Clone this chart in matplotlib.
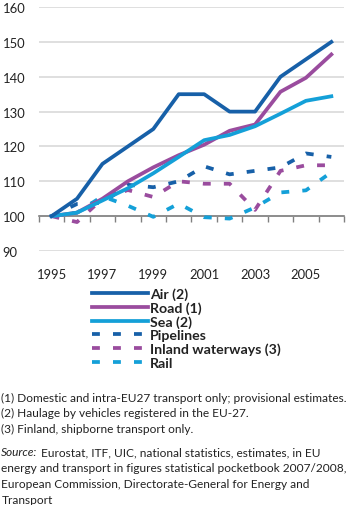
import numpy as np
import matplotlib
matplotlib.use('Agg')
import matplotlib.pyplot as plt
from matplotlib.ticker import FixedLocator

plt.rcParams['font.family'] = ['Lato', 'DejaVu Sans']

years = np.arange(1995, 2007)
air = [100, 105, 115, 120, 125, 135, 135, 130, 130, 140, 145, 150]
road = [100, 101, 105, 110, 114, 117.5, 120.5, 124.5, 126.3, 135.7, 139.7, 146.4]
sea = [100, 101, 104.5, 108, 112.3, 117, 121.8, 123.3, 125.8, 129.4, 133.1, 134.4]
pipelines = [100, 103.5, 103.8, 109, 108.3, 110, 114.3, 112, 113, 114, 118, 117]
inland = [100, 98.3, 105, 107.5, 105.5, 110, 109.3, 109.3, 101.8, 113, 114.6, 114.6]
rail = [100, 101, 105.7, 103, 99.8, 103.6, 99.7, 99.3, 102.5, 106.8, 107.4, 112.6]

year_labels = ['1995', '1997', '1999', '2001', '2003', '2005']
yticks = [90, 100, 110, 120, 130, 140, 150, 160]

c_dark = '#1760a8'
c_purple = '#9a4c9e'
c_light = '#14a0d8'
txt = '#222222'

fig = plt.figure(figsize=(3.5, 5.06), dpi=100)
ax = fig.add_axes([0.111, 0.502, 0.872, 0.482])

lw = 2.7
ax.plot(years, air, color=c_dark, lw=lw, label='Air (2)', zorder=5)
ax.plot(years, road, color=c_purple, lw=lw, label='Road (1)', zorder=4)
ax.plot(years, sea, color=c_light, lw=lw, label='Sea (2)', zorder=4)
ds = (2.1, 3.5)
ax.plot(years, pipelines, color=c_dark, lw=lw, dashes=ds, dash_capstyle='butt', label='Pipelines', zorder=3)
ax.plot(years, inland, color=c_purple, lw=lw, dashes=ds, dash_capstyle='butt', label='Inland waterways (3)', zorder=3)
ax.plot(years, rail, color=c_light, lw=lw, dashes=ds, dash_capstyle='butt', label='Rail', zorder=3)

ax.set_xlim(1994.5, 2006.5)
ax.set_ylim(90, 160)
ax.set_yticks(yticks)
ax.yaxis.grid(True, color='#d9d9d9', lw=1.2)
ax.set_axisbelow(True)
ax.tick_params(axis='y', length=0, pad=26, labelsize=9.4, labelcolor=txt)
for lab in ax.get_yticklabels():
    lab.set_horizontalalignment('left')

for s in ['top', 'right', 'left']:
    ax.spines[s].set_visible(False)
ax.spines['bottom'].set_position(('data', 100))
ax.spines['bottom'].set_color('#808080')
ax.spines['bottom'].set_linewidth(1.2)
ax.spines['bottom'].set_zorder(2)

ax.xaxis.set_major_locator(FixedLocator([int(y) for y in year_labels]))
ax.set_xticklabels(year_labels)
ax.xaxis.set_minor_locator(FixedLocator(np.arange(1994.5, 2007, 1.0)))
ax.tick_params(axis='x', which='major', length=0, pad=37, labelsize=9.4, labelcolor=txt)
ax.tick_params(axis='x', which='minor', length=4, width=1.0, color='#808080', direction='out')

leg = fig.legend(loc='upper left', bbox_to_anchor=(0.262, 0.431), frameon=False,
                 handlelength=4.0, handletextpad=0.12, labelspacing=0.1,
                 borderaxespad=0, borderpad=0, prop={'weight': 'bold', 'size': 10.2})
for t in leg.get_texts():
    t.set_color(txt)

fs = 8.6
notes = ['(1) Domestic and intra-EU27 transport only; provisional estimates.',
         '(2) Haulage by vehicles registered in the EU-27.',
         '(3) Finland, shipborne transport only.']
for i, n in enumerate(notes):
    fig.text(0.004, 1 - (398 + 15.5 * i) / 506, n, fontsize=fs, va='center', color=txt)

src_lines = ['Eurostat, ITF, UIC, national statistics, estimates, in EU',
             'energy and transport in figures statistical pocketbook 2007/2008,',
             'European Commission, Directorate-General for Energy and',
             'Transport']
t0 = fig.text(0.004, 1 - 453 / 506, 'Source:', fontsize=fs, style='italic', va='center', color=txt)
fig.canvas.draw()
bb = t0.get_window_extent()
fig.text((bb.x1 + 3) / fig.bbox.width, 1 - 453 / 506, src_lines[0], fontsize=fs, va='center', color=txt)
for i, s in enumerate(src_lines[1:]):
    fig.text(0.004, 1 - (469 + 15.7 * i) / 506, s, fontsize=fs, va='center', color=txt)

fig.savefig('out.png', dpi=100)
